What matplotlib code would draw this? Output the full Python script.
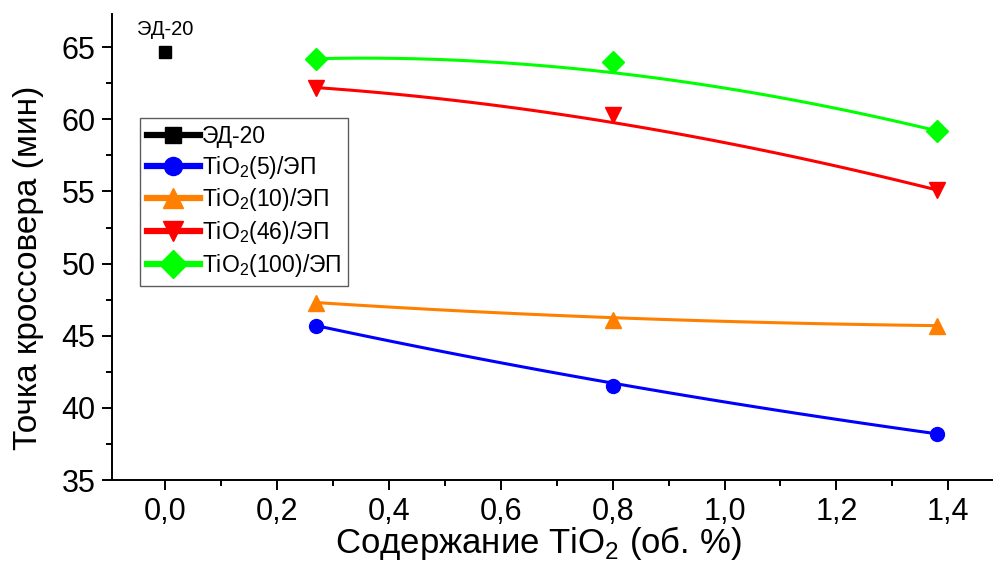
import matplotlib
matplotlib.use("Agg")
import matplotlib.pyplot as plt
from matplotlib.lines import Line2D
from matplotlib.ticker import MultipleLocator, FuncFormatter
import numpy as np

plt.rcParams['font.family'] = ['Liberation Sans', 'DejaVu Sans']
plt.rcParams['mathtext.fontset'] = 'custom'
plt.rcParams['mathtext.rm'] = 'Liberation Sans'

# data
ed20_x = [0.0]
ed20_y = [64.7]

tio2_x = [0.27, 0.8, 1.38]
tio2_5 = [45.7, 41.5, 38.2]
tio2_10 = [47.3, 46.1, 45.7]
tio2_46 = [62.2, 60.3, 55.1]
tio2_100 = [64.2, 64.0, 59.2]

names = ["ЭД-20", "TiO$_2$(5)/ЭП", "TiO$_2$(10)/ЭП", "TiO$_2$(46)/ЭП", "TiO$_2$(100)/ЭП"]
colors = ["black", "#0000ff", "#ff8000", "#ff0000", "#00ff00"]
markers = ["s", "o", "^", "v", "D"]
sizes = [9, 10, 12, 12, 11]


def smooth(xs, ys, a=0.3, n=120):
	# quadratic bezier, control pulled a bit past the middle point (spline-like look)
	xs = np.asarray(xs, float)
	ys = np.asarray(ys, float)
	cx = xs[1] + a * (xs[1] - (xs[0] + xs[2]) / 2)
	cy = ys[1] + a * (ys[1] - (ys[0] + ys[2]) / 2)
	t = np.linspace(0, 1, n)
	bx = (1 - t) ** 2 * xs[0] + 2 * t * (1 - t) * cx + t ** 2 * xs[2]
	by = (1 - t) ** 2 * ys[0] + 2 * t * (1 - t) * cy + t ** 2 * ys[2]
	return bx, by


fig = plt.figure(figsize=(9.93, 5.65), dpi=100)
ax = fig.add_axes([112 / 993, 85 / 565, 881 / 993, 466 / 565])

ax.plot(ed20_x, ed20_y, ls="none", marker="s", color="black", ms=9)
ax.text(0.0, 65.6, "ЭД-20", ha="center", va="bottom", fontsize=14.5)

series = [tio2_5, tio2_10, tio2_46, tio2_100]
for ys, c, m, s in zip(series, colors[1:], markers[1:], sizes[1:]):
	bx, by = smooth(tio2_x, ys)
	ax.plot(bx, by, color=c, lw=2.2)
	ax.plot(tio2_x, ys, ls="none", marker=m, color=c, ms=s)

ax.set_xlim(-0.095, 1.48)
ax.set_ylim(35, 67.3)

ax.spines["top"].set_visible(False)
ax.spines["right"].set_visible(False)
ax.spines["left"].set_linewidth(1.4)
ax.spines["bottom"].set_linewidth(1.4)

ax.xaxis.set_major_locator(MultipleLocator(0.2))
ax.xaxis.set_minor_locator(MultipleLocator(0.1))
ax.yaxis.set_major_locator(MultipleLocator(5))
ax.yaxis.set_minor_locator(MultipleLocator(2.5))
ax.xaxis.set_major_formatter(FuncFormatter(lambda v, p: ("%.1f" % v).replace(".", ",")))
ax.tick_params(which="major", direction="out", length=7, width=1.4, labelsize=22, pad=5)
ax.tick_params(which="minor", direction="out", length=4, width=1.4)

ax.set_xlabel("Содержание TiO$_2$ (об. %)", fontsize=25)
ax.set_ylabel("Точка кроссовера (мин)", fontsize=24)
ax.xaxis.label.set_va("baseline")
ax.yaxis.label.set_va("baseline")
ax.xaxis.set_label_coords((538 - 112) / 881, (480 - 553) / 466)
ax.yaxis.set_label_coords((37 - 112) / 881, (480 - 268) / 466)

handles = [Line2D([], [], color=c, marker=m, lw=4.5, ms=s + 3) for c, m, s in zip(colors, markers, sizes)]
leg = ax.legend(handles, names, loc="upper left", bbox_to_anchor=(28 / 881, 362 / 466),
	fontsize=16.5, handlelength=2.3, handletextpad=0.1, labelspacing=0.25,
	frameon=True, fancybox=False, borderpad=0.3, borderaxespad=0)
leg.get_frame().set_edgecolor("#333333")
leg.get_frame().set_linewidth(1.0)

fig.savefig("out.png", dpi=100)
